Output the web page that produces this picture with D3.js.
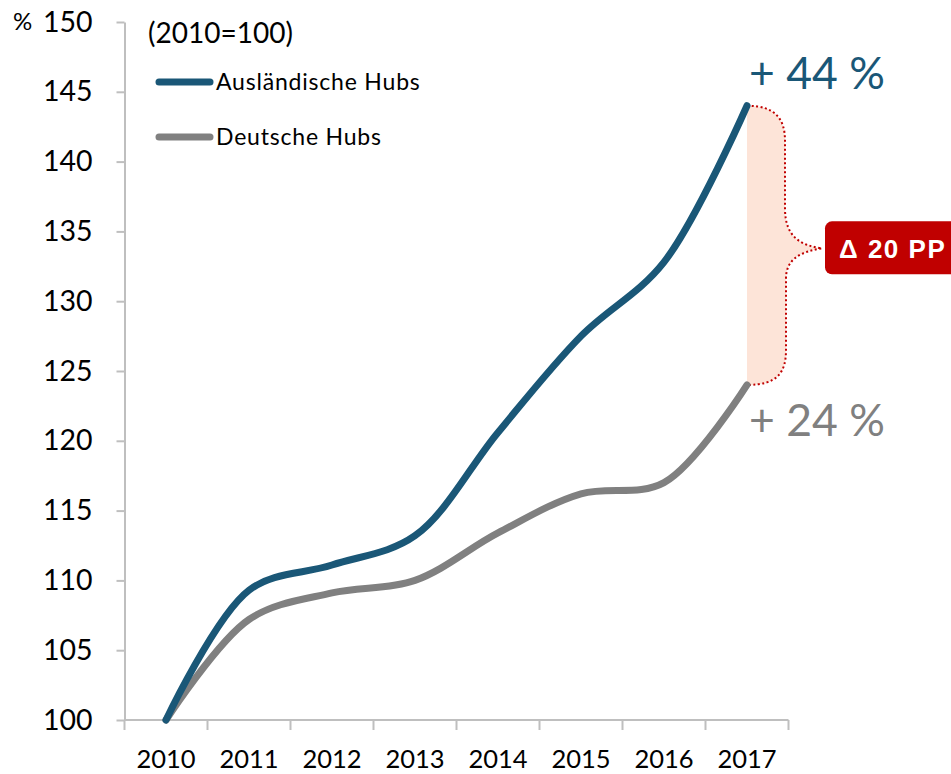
<!DOCTYPE html>
<html><head><meta charset="utf-8">
<script src="https://cdn.jsdelivr.net/npm/d3@7"></script>
<style>body{margin:0;background:#fff}svg{display:block}</style>
</head><body>
<svg id="c" width="951" height="774"></svg>
<script>
const years = [2010, 2011, 2012, 2013, 2014, 2015, 2016, 2017];
const auslaendisch = [100, 109.3, 111.1, 113.2, 120.6, 127.5, 132.8, 144];
const deutsch = [100, 107.2, 109.1, 110.0, 113.4, 116.2, 117.0, 124];
const yTicks = [100, 105, 110, 115, 120, 125, 130, 135, 140, 145, 150];
const seriesNames = ["Ausländische Hubs", "Deutsche Hubs"];
const labelAus = "+ 44 %";
const labelDe = "+ 24 %";
const deltaLabel = "Δ 20 PP";
const baseLabel = "(2010=100)";

const font = "Lato, 'Open Sans', sans-serif";
const blue = "#1a5777", gray = "#808080", red = "#c00000", axisCol = "#bfbfbf";

const svg = d3.select("#c");
const x = d3.scaleBand().domain(years).range([124.5, 788.5]).padding(0);
const y = d3.scaleLinear().domain([100, 150]).range([720, 22]);
const cx = d => x(d) + x.bandwidth() / 2;

// Y axis
const yAxis = d3.axisLeft(y).tickValues(yTicks).tickSize(8).tickPadding(24).tickSizeOuter(0);
const gy = svg.append("g").attr("transform", `translate(${x.range()[0]},0)`).call(yAxis);
gy.select(".domain").attr("stroke", axisCol).attr("stroke-width", 2);
gy.selectAll(".tick line").attr("stroke", axisCol).attr("stroke-width", 2);
gy.selectAll(".tick text").attr("font-family", font).attr("font-size", 28.5).attr("fill", "#000");
svg.append("text").attr("x", 13).attr("y", y(150)).attr("dy", "0.32em")
  .attr("font-family", font).attr("font-size", 24).text("%");

// X axis
svg.append("line").attr("x1", x.range()[0]).attr("x2", x.range()[1])
  .attr("y1", y(100)).attr("y2", y(100)).attr("stroke", axisCol).attr("stroke-width", 2);
const bounds = years.map(d => x(d)).concat([x.range()[1]]);
svg.selectAll(".xt").data(bounds).join("line").attr("class", "xt")
  .attr("x1", d => d).attr("x2", d => d).attr("y1", y(100)).attr("y2", y(100) + 10)
  .attr("stroke", axisCol).attr("stroke-width", 2);
svg.selectAll(".xl").data(years).join("text").attr("class", "xl")
  .attr("x", d => cx(d)).attr("y", 768).attr("text-anchor", "middle")
  .attr("font-family", font).attr("font-size", 25.5).text(d => d);

// Annotation: shaded brace area
const xe = cx(2017), yT = y(auslaendisch[7]), yB = y(deutsch[7]);
const yM = (yT + yB) / 2 + 3;
const bx = xe + 38, tip = xe + 75;
const brace = d3.path();
brace.moveTo(xe, yT);
brace.bezierCurveTo(xe + 30, yT, bx, yT + 15, bx, yT + 35);
brace.lineTo(bx, yM - 40);
brace.bezierCurveTo(bx, yM - 10, tip - 20, yM - 3, tip, yM);
brace.bezierCurveTo(tip - 20, yM + 3, bx + 1, yM + 10, bx + 1, yM + 30);
brace.lineTo(bx + 1, yB - 35);
brace.bezierCurveTo(bx + 1, yB - 12, xe + 30, yB, xe, yB);
svg.append("path").attr("d", brace.toString() + "Z").attr("fill", "#fde4d8").attr("stroke", "none");
svg.append("path").attr("d", brace.toString()).attr("fill", "none")
  .attr("stroke", red).attr("stroke-width", 2).attr("stroke-dasharray", "2,2.5");

// Lines
const line = d3.line().x((d, i) => cx(years[i])).y(d => y(d)).curve(d3.curveCatmullRom.alpha(0.5));
svg.append("path").datum(deutsch).attr("d", line).attr("fill", "none")
  .attr("stroke", gray).attr("stroke-width", 7).attr("stroke-linecap", "round");
svg.append("path").datum(auslaendisch).attr("d", line).attr("fill", "none")
  .attr("stroke", blue).attr("stroke-width", 7).attr("stroke-linecap", "round");

// Labels
svg.append("text").attr("x", xe + 2).attr("y", 89).attr("font-family", font)
  .attr("font-size", 44.5).attr("fill", blue).text(labelAus);
svg.append("text").attr("x", xe + 2).attr("y", 436).attr("font-family", font)
  .attr("font-size", 44.5).attr("fill", gray).text(labelDe);

// Delta box
svg.append("rect").attr("x", tip + 3).attr("y", yM - 27).attr("width", 150).attr("height", 53)
  .attr("rx", 7).attr("fill", red);
svg.append("text").attr("x", tip + 17).attr("y", yM + 10).attr("font-family", "'Liberation Sans', Arial, sans-serif")
  .attr("font-weight", "bold").attr("font-size", 26).attr("letter-spacing", 1.5)
  .attr("fill", "#fff").text(deltaLabel);

// Legend
svg.append("text").attr("x", 148).attr("y", 43).attr("font-family", font).attr("font-size", 28).text(baseLabel);
const legColors = [blue, gray];
const legY = [82, 137];
seriesNames.forEach((n, i) => {
  svg.append("line").attr("x1", 159).attr("x2", 210).attr("y1", legY[i]).attr("y2", legY[i])
    .attr("stroke", legColors[i]).attr("stroke-width", 7).attr("stroke-linecap", "round");
  svg.append("text").attr("x", 216).attr("y", legY[i]).attr("dy", "0.35em")
    .attr("font-family", font).attr("font-size", 23).attr("letter-spacing", 0.8).text(n);
});
</script>
</body></html>
